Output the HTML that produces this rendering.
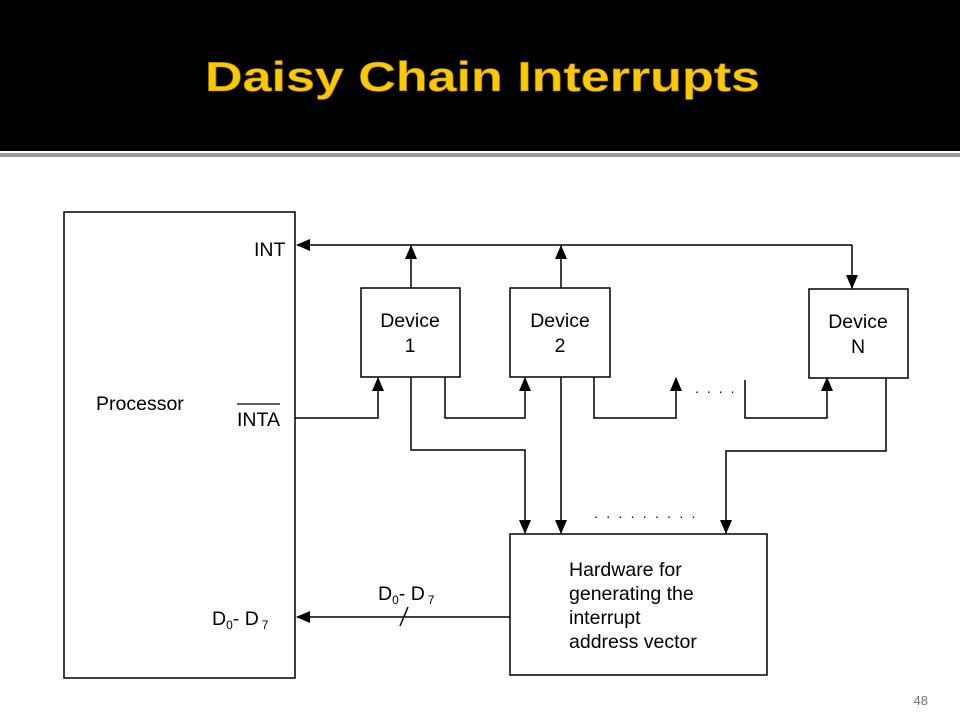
<!DOCTYPE html>
<html><head><meta charset="utf-8"><style>
html,body{margin:0;padding:0;background:#fff;width:960px;height:720px;overflow:hidden}
</style></head><body>
<svg width="960" height="720" viewBox="0 0 960 720" xmlns="http://www.w3.org/2000/svg" font-family="Liberation Sans, Arial, sans-serif">
<defs>
<marker id="a" markerWidth="14" markerHeight="14" refX="13" refY="7" orient="auto" markerUnits="userSpaceOnUse">
<path d="M0,1 L14,7 L0,13 z" fill="#000"/></marker>
</defs>
<rect x="0" y="0" width="960" height="151" fill="#000"/>
<rect x="0" y="153" width="960" height="4" fill="#999"/>
<text x="205" y="91" font-size="42" font-weight="bold" fill="#fcc800" stroke="#8a6a00" stroke-width="0.6" textLength="555" lengthAdjust="spacingAndGlyphs">Daisy  Chain  Interrupts</text>

<g fill="none" stroke="#000" stroke-width="1.5">
<rect x="64" y="212" width="231" height="466"/>
<rect x="361" y="288" width="99" height="89"/>
<rect x="510" y="288" width="100" height="89"/>
<rect x="809" y="289" width="99" height="89"/>
<rect x="510" y="534" width="257" height="141"/>
<line x1="852" y1="245" x2="297" y2="245" marker-end="url(#a)"/>
<polyline points="852,245 852,288" marker-end="url(#a)"/>
<line x1="411" y1="288" x2="411" y2="246" marker-end="url(#a)"/>
<line x1="561" y1="288" x2="561" y2="246" marker-end="url(#a)"/>
<polyline points="295,418 378,418 378,378" marker-end="url(#a)"/>
<polyline points="445,377 445,418 525,418 525,378" marker-end="url(#a)"/>
<polyline points="594,377 594,418 676,418 676,378" marker-end="url(#a)"/>
<polyline points="745,380 745,418 827,418 827,378" marker-end="url(#a)"/>
<polyline points="411,377 411,450 525,450 525,533" marker-end="url(#a)"/>
<line x1="561" y1="377" x2="561" y2="533" marker-end="url(#a)"/>
<polyline points="886,378 886,451 726,451 726,533" marker-end="url(#a)"/>
<line x1="510" y1="617" x2="297" y2="617" marker-end="url(#a)"/>
<line x1="400" y1="626" x2="408" y2="607"/>
</g>
<g fill="#000" font-size="14">
<text x="695" y="393" letter-spacing="8">....</text>
<text x="594" y="518" letter-spacing="8.3">.........</text>
</g>
<g font-size="19.5" fill="#000" text-anchor="middle">
<text x="410" y="327">Device</text><text x="410" y="352">1</text>
<text x="560" y="327">Device</text><text x="560" y="352">2</text>
<text x="858" y="328">Device</text><text x="858" y="353">N</text>
</g>
<g font-size="19.5" fill="#000">
<text x="96" y="410">Processor</text>
<text x="254" y="256">INT</text>
<text x="237" y="426">INTA</text>
<line x1="237" y1="404" x2="280" y2="404" stroke="#000" stroke-width="1.3"/>
<text x="212" y="625">D<tspan font-size="12" dy="4">0</tspan><tspan dy="-4">- D</tspan><tspan font-size="12" dx="3" dy="4">7</tspan></text>
<text x="378" y="600">D<tspan font-size="12" dy="4">0</tspan><tspan dy="-4">- D</tspan><tspan font-size="12" dx="3" dy="4">7</tspan></text>
<text x="569" y="576">Hardware for</text>
<text x="569" y="600">generating the</text>
<text x="569" y="624">interrupt</text>
<text x="569" y="648">address vector</text>
</g>
<text x="928" y="705" font-size="13" fill="#777" text-anchor="end">48</text>
</svg>
</body></html>
